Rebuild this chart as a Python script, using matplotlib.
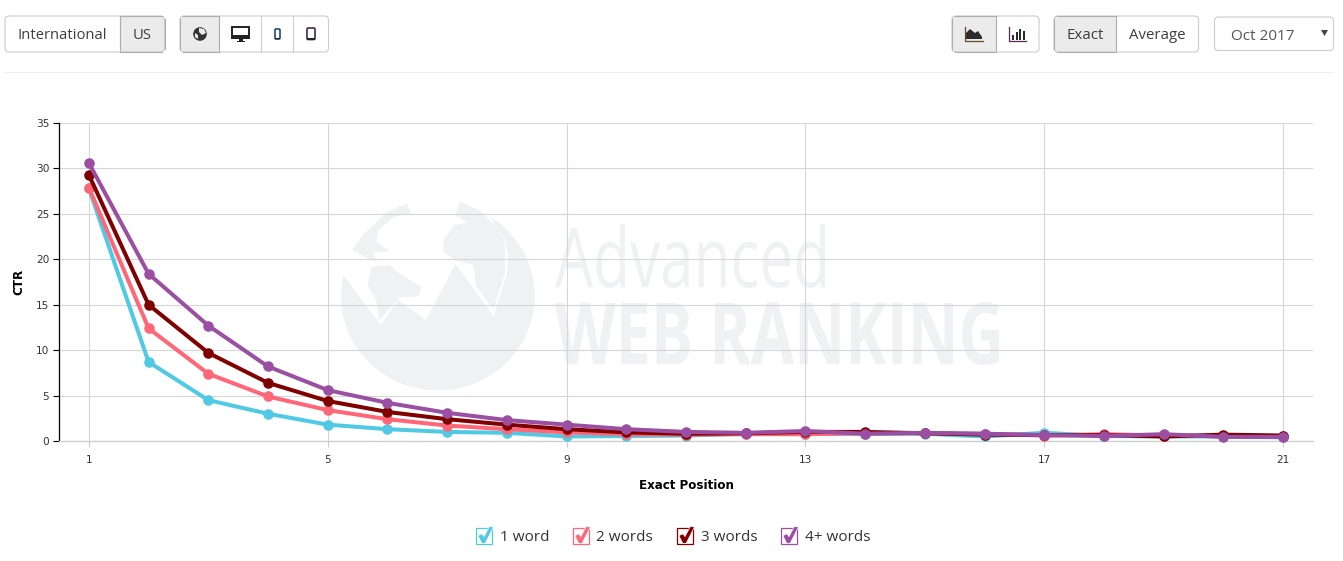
import numpy as np
import matplotlib
matplotlib.use('Agg')
import matplotlib.pyplot as plt
from matplotlib.patches import FancyBboxPatch, Rectangle, Polygon, Circle
from matplotlib.legend_handler import HandlerBase
from matplotlib.text import Text
from matplotlib.textpath import TextPath
from matplotlib.font_manager import FontProperties
from matplotlib.transforms import Affine2D, Bbox

# ---------- data ----------
positions = list(range(1, 22))
series_names = ['1 word', '2 words', '3 words', '4+ words']
one_word = [27.8, 8.7, 4.5, 3.0, 1.8, 1.3, 1.0, 0.9, 0.5, 0.55, 0.6, 0.8, 0.8, 0.8, 0.8, 0.5, 0.9, 0.55, 0.5, 0.5, 0.4]
two_words = [27.9, 12.4, 7.4, 4.9, 3.4, 2.4, 1.7, 1.3, 0.95, 0.75, 0.7, 0.75, 0.75, 0.85, 0.85, 0.8, 0.6, 0.75, 0.6, 0.55, 0.55]
three_words = [29.3, 15.0, 9.7, 6.4, 4.4, 3.2, 2.4, 1.8, 1.3, 0.95, 0.8, 0.85, 1.0, 1.0, 0.85, 0.7, 0.65, 0.65, 0.5, 0.7, 0.6]
four_words = [30.6, 18.4, 12.7, 8.2, 5.6, 4.2, 3.1, 2.3, 1.8, 1.3, 1.0, 0.9, 1.1, 0.8, 0.9, 0.8, 0.65, 0.55, 0.75, 0.45, 0.45]
colors = ['#4fc9e4', '#ff6678', '#800000', '#9a4fa3']
x_ticks = [1, 5, 9, 13, 17, 21]
y_ticks = [0, 5, 10, 15, 20, 25, 30, 35]

W, H = 1343, 561
UI_FONT = 'Open Sans'
fig = plt.figure(figsize=(W / 100, H / 100), dpi=100, facecolor='white')

# ---------- pixel-space layer (toolbar + watermark) ----------
ui = fig.add_axes([0, 0, 1, 1], zorder=0)
ui.set_xlim(0, W)
ui.set_ylim(H, 0)
ui.axis('off')

BORDER = '#cccccc'
ACTIVE_BORDER = '#adadad'
ACTIVE_FILL = '#ebebeb'
TXT = '#3d3d3d'


def group(x0, x1, y0, y1, splits, active):
    base = FancyBboxPatch((x0, y0), x1 - x0, y1 - y0, boxstyle='round,pad=0,rounding_size=4',
                          fc='white', ec='none', zorder=2)
    ui.add_patch(base)
    if active is not None:
        r = Rectangle((active[0], y0), active[1] - active[0], y1 - y0, fc=ACTIVE_FILL, ec='none', zorder=3)
        ui.add_patch(r)
        r.set_clip_path(base)
    edge = FancyBboxPatch((x0, y0), x1 - x0, y1 - y0, boxstyle='round,pad=0,rounding_size=4',
                          fc='none', ec=BORDER, lw=0.8, zorder=5)
    ui.add_patch(edge)
    for s in splits:
        ui.plot([s, s], [y0, y1], color=BORDER, lw=0.8, zorder=4, solid_capstyle='butt')
    if active is not None:
        for s in active:
            if x0 < s < x1:
                ui.plot([s, s], [y0, y1], color=ACTIVE_BORDER, lw=0.8, zorder=4.5, solid_capstyle='butt')
        a0 = max(active[0], x0 + 3)
        a1 = min(active[1], x1 - 3)
        ui.plot([a0, a1], [y0, y0], color=ACTIVE_BORDER, lw=0.8, zorder=6)
        ui.plot([a0, a1], [y1, y1], color=ACTIVE_BORDER, lw=0.8, zorder=6)
        if active[0] == x0:
            ui.plot([x0, x0], [y0 + 3, y1 - 3], color=ACTIVE_BORDER, lw=0.8, zorder=6)
        if active[1] == x1:
            ui.plot([x1, x1], [y0 + 3, y1 - 3], color=ACTIVE_BORDER, lw=0.8, zorder=6)


def label(x, y, s, ha='center', size=11.0, color=TXT):
    ui.text(x, y, s, ha=ha, va='center', fontsize=size, color=color, family=UI_FONT, zorder=7)


group(5, 164.5, 16, 52, [120], (120, 164.5))
label(62.5, 35, 'International', size=10.6)
label(142.5, 35, 'US', size=10.6)

group(180, 328.5, 16, 52, [219, 261, 293], (180, 219))
# globe icon
ui.add_patch(Circle((200, 34), 6.8, fc='#333333', ec='none', zorder=7))
ui.add_patch(Polygon([(199, 28), (204, 29), (206, 33), (202, 35), (199, 32)], fc=ACTIVE_FILL, ec='none', zorder=8))
ui.add_patch(Polygon([(195, 33), (198, 35), (198, 39), (195, 37)], fc=ACTIVE_FILL, ec='none', zorder=8))
# desktop icon
ui.add_patch(Rectangle((232, 27), 17, 11, fc='white', ec='#222222', lw=1.4, zorder=7))
ui.add_patch(Rectangle((232, 35), 17, 3.5, fc='#222222', ec='none', zorder=8))
ui.add_patch(Rectangle((238.5, 38), 4, 3, fc='#222222', ec='none', zorder=8))
ui.add_patch(Rectangle((236.5, 40.5), 8, 1.2, fc='#222222', ec='none', zorder=8))
# phone icon
ui.add_patch(FancyBboxPatch((275, 29), 5, 10, boxstyle='round,pad=0,rounding_size=1', fc='white', ec='#1f4e79', lw=1.2, zorder=7))
ui.add_patch(Rectangle((275, 37.5), 5, 1.8, fc='#222222', ec='none', zorder=8))
# tablet icon
ui.add_patch(FancyBboxPatch((307, 28), 8, 11.5, boxstyle='round,pad=0,rounding_size=1.2', fc='white', ec='#3a2a55', lw=1.2, zorder=7))
ui.add_patch(Rectangle((307, 38), 8, 1.6, fc='#222222', ec='none', zorder=8))

group(952, 1039, 16, 52, [], (952, 995.5))
# area chart icon
ui.add_patch(Polygon([(966, 39), (966, 33), (970, 29), (975, 33), (978, 31), (982, 37), (982, 39)], fc='#2b2b2b', ec='none', zorder=7))
ui.plot([965, 965, 983], [27, 40.5, 40.5], color='#6b4a2b', lw=0.9, zorder=7)
# bar chart icon
ui.plot([1009, 1009, 1026], [27, 40.5, 40.5], color='#5d2a55', lw=0.9, zorder=7)
for bx, bt in zip([1012, 1015.5, 1019, 1022.5], [35, 32, 29, 31]):
    ui.add_patch(Rectangle((bx, bt), 2, 39.5 - bt, fc='#2b2b2b', ec='none', zorder=7))

group(1054, 1198.5, 16, 52, [], (1054, 1115.5))
label(1085.5, 35, 'Exact', size=10.8)
label(1157.5, 35, 'Average', size=10.8)

group(1214.5, 1333.5, 17, 50.5, [], None)
label(1231, 36.5, 'Oct 2017', ha='left', size=11, color='#555555')
ui.add_patch(Polygon([(1321, 30), (1328, 30), (1324.5, 36)], fc='#444444', ec='none', zorder=7))

ui.plot([5, 1333], [72, 72], color='#eeeeee', lw=0.8, zorder=1)

# ---------- watermark ----------
WM = '#f0f1f3'


def z(points):
    return [(330 + a / 2.272, 190 + b / 3) for a, b in points]


class SqueezedText(Text):
    """A real text artist drawn squeezed into a pixel box (the logo face is condensed)."""

    def __init__(self, s, box, family, weight, color, zorder):
        super().__init__(box[0], box[3], s, color=color, zorder=zorder, fontsize=8)
        self.box = box
        self.fp = FontProperties(family=family, weight=weight)

    def draw(self, renderer):
        x0, x1, y0, y1 = self.box
        tp = TextPath((0, 0), self.get_text(), size=100, prop=self.fp)
        bb = tp.get_extents()
        tr = (Affine2D().translate(-bb.x0, -bb.y0).scale((x1 - x0) / bb.width, -(y1 - y0) / bb.height)
              .translate(x0, y1) + self.axes.transData)
        gc = renderer.new_gc()
        gc.set_linewidth(0)
        renderer.draw_path(gc, tp, tr, matplotlib.colors.to_rgb(self.get_color()))
        gc.restore()

    def get_window_extent(self, renderer=None, dpi=None):
        x0, x1, y0, y1 = self.box
        return Bbox.from_extents(x0, H - y1, x1, H - y0)


for s, box, wt in [('Advanced', (555, 825, 224, 288), 'normal'), ('WEB RANKING', (555, 999, 302, 365), 'bold')]:
    ui.add_artist(SqueezedText(s, box, UI_FONT, wt, WM, 0.5))

ex, ey = 245, 318
arc = lambda a0, a1, n: [(ex + 220 * np.cos(v), ey + 283 * np.sin(v)) for v in np.radians(np.linspace(a0, a1, n))]
ui.add_patch(Polygon(z(arc(-58, 188, 90) + [(30, 255), (115, 405), (155, 330), (218, 390), (285, 222),
                                              (372, 378), (402, 250), (405, 200), (395, 140)]),
                     fc=WM, ec='none', zorder=0.5))
ui.add_patch(Polygon(z([(295, 35), (340, 62), (390, 125), (397, 160), (398, 245), (372, 358), (332, 288), (325, 225),
                        (285, 212), (258, 185), (258, 150), (282, 105), (312, 98), (285, 75)]),
                     fc=WM, ec='none', zorder=0.5))
ui.add_patch(Polygon(z([(175, 40), (185, 70), (145, 80), (110, 120), (105, 155), (135, 185), (100, 185), (105, 218),
                        (50, 180), (75, 135), (125, 70)]), fc=WM, ec='none', zorder=0.5))
ui.add_patch(Polygon(z([(95, 230), (135, 225), (165, 258), (208, 290), (200, 320), (158, 322), (112, 392), (105, 330), (85, 285)]),
                     fc=WM, ec='none', zorder=0.5))

# ---------- chart ----------
ax = fig.add_axes([59 / W, 1 - 441 / H, (1313 - 59) / W, (441 - 123) / H], zorder=1)
ax.patch.set_alpha(0)
ax.set_xlim(0.5, 21.5)
ax.set_ylim(0, 35)
ax.set_xticks(x_ticks)
ax.set_yticks(y_ticks)
ax.grid(True, color='#d6d6d6', lw=0.8, zorder=1)
ax.set_axisbelow(True)
for s in ['top', 'right']:
    ax.spines[s].set_visible(False)
ax.spines['left'].set_color('black')
ax.spines['left'].set_linewidth(0.9)
ax.spines['bottom'].set_color('#cccccc')
ax.spines['bottom'].set_linewidth(0.9)
ax.tick_params(axis='y', length=4.5, width=0.8, color='black', labelsize=7.6, labelcolor='#333333', pad=2.5)
ax.tick_params(axis='x', length=4, width=0.8, color='#cccccc', labelsize=7.6, labelcolor='#333333', pad=6)
ax.set_xlabel('Exact Position', fontsize=8.6, fontweight='bold', labelpad=10.2, color='black')
ax.set_ylabel('CTR', fontsize=8.6, fontweight='bold', labelpad=7.6, color='black')

handles = []
for name, vals, c in zip(series_names, [one_word, two_words, three_words, four_words], colors):
    ln, = ax.plot(positions, vals, color=c, lw=2.9, marker='o', ms=7.6, mew=0, label=name,
                  clip_on=False, zorder=3, solid_joinstyle='round')
    handles.append(ln)


class CheckHandler(HandlerBase):
    def create_artists(self, legend, orig, xd, yd, width, height, fontsize, trans):
        c = orig.get_color()
        u = 11.5
        x0 = width / 2 - u / 2
        y0 = height / 2 - u / 2
        box = Rectangle((x0, y0), u, u, fc='white', ec=c, lw=0.9, transform=trans)
        chk = Polygon([(x0 + .12 * u, y0 + .50 * u), (x0 + .38 * u, y0 + .62 * u), (x0 + .50 * u, y0 + .44 * u),
                       (x0 + .84 * u, y0 + 1.08 * u), (x0 + 1.10 * u, y0 + 1.04 * u),
                       (x0 + .58 * u, y0 + .02 * u), (x0 + .36 * u, y0 + .02 * u)],
                      fc=c, ec='white', lw=0.5, transform=trans)
        return [box, chk]


leg = ax.legend(handles=handles, handler_map={h: CheckHandler() for h in handles},
                loc='center', bbox_to_anchor=(673 / W, 1 - 537.5 / H), bbox_transform=fig.transFigure,
                ncol=4, frameon=False, labelcolor='#333333',
                prop={'family': UI_FONT, 'size': 11}, handlelength=1.05, handletextpad=0.5, columnspacing=1.55,
                borderpad=0, borderaxespad=0)

fig.savefig('out.png', dpi=100, facecolor='white')
